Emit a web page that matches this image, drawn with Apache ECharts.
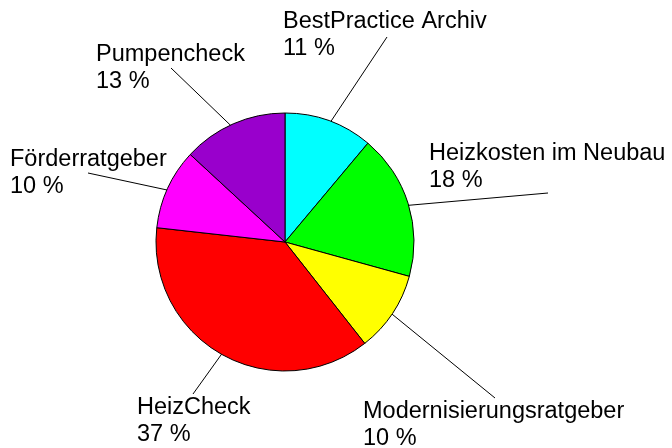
<!DOCTYPE html>
<html>
<head>
<meta charset="utf-8">
<script src="https://cdn.jsdelivr.net/npm/echarts@6/dist/echarts.min.js"></script>
<style>
  html, body { margin: 0; padding: 0; background: #fff; }
  #chart { width: 672px; height: 448px; }
</style>
</head>
<body>
<div id="chart"></div>
<script>
// Kategorien im Uhrzeigersinn ab 12 Uhr
var names = ['BestPractice Archiv', 'Heizkosten im Neubau', 'Modernisierungsratgeber', 'HeizCheck', 'Förderratgeber', 'Pumpencheck']
// Anteile in Prozent (wie beschriftet)
var values = [11, 18, 10, 37, 10, 13]
var colors = ['#00ffff', '#00ff00', '#ffff00', '#ff0000', '#ff00ff', '#9900cc']

// Lage der Beschriftungen (links oben) und Ende der Hinweislinien
var labelPos = [[283, 8], [429, 140], [363, 398], [137, 394], [10, 146], [96, 41]]
var lineEnd = [[387, 37], [548, 193], [495, 398], [193, 394], [88, 173], [171, 68]]

var chart = echarts.init(document.getElementById('chart'))
var center = [285, 242]

var seriesData = []
for (var i = 0; i < names.length; i++) {
  seriesData.push({
    name: names[i],
    value: values[i],
    itemStyle: { color: colors[i] }
  })
}

chart.setOption({
  backgroundColor: '#fff',
  animation: false,
  series: [
    {
      type: 'pie',
      center: center,
      radius: 129,
      startAngle: 90,
      clockwise: true,
      avoidLabelOverlap: false,
      data: seriesData,
      itemStyle: {
        borderColor: '#000',
        borderWidth: 1
      },
      emphasis: { disabled: true },
      label: {
        show: true,
        position: 'outside',
        fontFamily: 'Liberation Sans, Arial, sans-serif',
        fontSize: 23.5,
        lineHeight: 27,
        color: '#000',
        formatter: '{b}\n{c} %'
      },
      labelLine: {
        show: true,
        smooth: false,
        lineStyle: { color: '#000', width: 1 }
      },
      labelLayout: function (params) {
        var i = params.dataIndex
        var p0 = params.labelLinePoints ? params.labelLinePoints[0] : center
        // Linie beginnt innerhalb des Segments
        var inner = [
          center[0] + (p0[0] - center[0]) * 0.94,
          center[1] + (p0[1] - center[1]) * 0.94
        ]
        return {
          x: labelPos[i][0],
          y: labelPos[i][1],
          align: 'left',
          verticalAlign: 'top',
          labelLinePoints: [inner, lineEnd[i], lineEnd[i]]
        }
      }
    }
  ]
})
</script>
</body>
</html>
